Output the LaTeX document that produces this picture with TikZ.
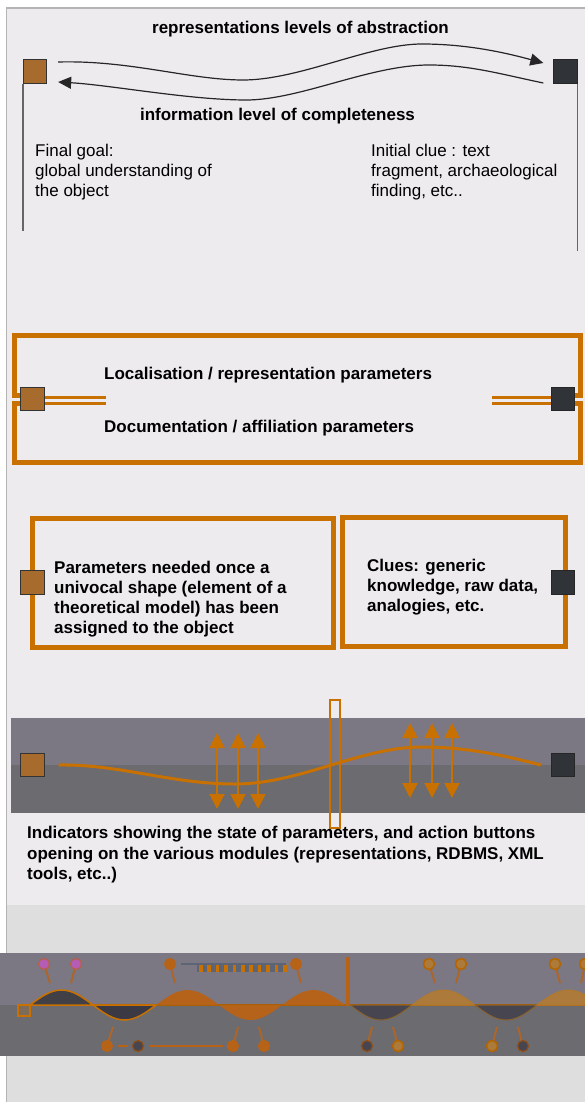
\documentclass[tikz,border=0pt]{standalone}
\usepackage{fontspec}
\setmainfont{Liberation Sans}
\usetikzlibrary{arrows.meta,calc}

\definecolor{pagebg}{HTML}{EEEBEF}
\definecolor{lowbg}{HTML}{DEDEDE}
\definecolor{edgegray}{HTML}{B4B4B4}
\definecolor{amber}{HTML}{C87000}
\definecolor{bronze}{HTML}{A66B2D}
\definecolor{slate}{HTML}{303338}
\definecolor{bandtop}{HTML}{7B7884}
\definecolor{bandlow}{HTML}{6B6B70}
\definecolor{rust}{HTML}{B5621A}
\definecolor{ochre}{HTML}{AC7A3A}
\definecolor{inkA}{HTML}{414046}
\definecolor{inkB}{HTML}{3B3944}
\definecolor{inkC}{HTML}{47454F}
\definecolor{steel}{HTML}{5C6476}
\definecolor{orchid}{HTML}{B55DB6}

\tikzset{
  goal/.style={draw=black!80,fill=bronze,minimum size=23.5pt,inner sep=0pt,line width=0.8pt},
  clue/.style={draw=black!85,fill=slate,minimum size=23.5pt,inner sep=0pt,line width=0.8pt},
  title/.style={font=\fontsize{17}{20}\selectfont\bfseries,inner sep=0pt},
  note/.style={font=\fontsize{17}{20}\selectfont,align=left,inner sep=0pt,anchor=north west},
  boldnote/.style={note,font=\fontsize{17}{20}\selectfont\bfseries},
  post/.style={draw=black!60,line width=1.5pt},
  swing/.style={draw=black!85,line width=1.2pt},
  rim/.style={draw=amber,line width=5pt},
  twin/.style={draw=amber,line width=3pt},
  updown/.style={amber,line width=2pt,{Triangle[length=15pt,width=15pt]}-{Triangle[length=15pt,width=15pt]}},
  stick/.style={draw=rust!85!bandtop,line width=2pt},
  pinkhead/.style={fill=orchid,draw=rust!70!orchid,line width=1.2pt},
  amberhead/.style={fill=rust!90!amber,draw=rust!90!amber,line width=1.2pt},
  palehead/.style={fill=ochre,draw=amber!90!black,line width=1.5pt},
  duskhead/.style={fill=inkC,draw=rust!80!black,line width=1.2pt}
}

\begin{document}
\begin{tikzpicture}[x=1pt,y=-1pt]
\useasboundingbox (0,0) rectangle (585,1102);
\fill[white] (0,0) rectangle (585,1102);
\fill[pagebg] (6.5,8) rectangle (585,905);
\fill[lowbg] (6.5,905) rectangle (585,1102);
\draw[edgegray,line width=1.5pt] (585,8) -- (6.5,8) -- (6.5,1102);

\node[goal] (goalA) at (35,71.5) {};
\node[clue] (clueA) at (565.5,71.5) {};
\draw[post] (goalA.south west) -- ++(0,147);
\draw[post] (clueA.south east) -- ++(0,167);
\draw[swing,-{Triangle[length=13pt,width=12pt]}] ($(goalA.east)+(11,-9.5)$) .. controls (130,60) and (190,80) .. (243,80) .. controls (300,80) and (370,44) .. (422,44) .. controls (470,44) and (510,54) .. ($(clueA.west)+(-10,-8.5)$);
\draw[swing,-{Triangle[length=13pt,width=12pt]}] ($(clueA.west)+(-10,11.5)$) .. controls (500,74) and (470,65) .. (429,65) .. controls (370,65) and (300,100) .. (246,100) .. controls (190,100) and (110,85) .. ($(goalA.east)+(11,10.5)$);
\node[title,anchor=base] (abstraction) at (300.5,34) {representations levels of abstraction};
\node[title,anchor=base] (completeness) at (277.5,121) {information level of completeness};
\node[note] (finalgoal) at (35,144) {Final goal:\\global understanding of\\the object};
\node[note] (initialclue) at (371,144) {Initial clue : text\\fragment, archaeological\\finding, etc..};

\node[goal] (goalB) at (32.5,399) {};
\node[clue] (clueB) at (563,399) {};
\draw[rim] (goalB.west |- 0,395) -| (14.5,335.5) -| (580.5,395) -- (clueB.east |- 0,395);
\draw[rim] (goalB.west |- 0,403) -| (14.5,462.5) -| (580.5,403) -- (clueB.east |- 0,403);
\draw[twin] (goalB.east |- 0,397) -- (106,397) (goalB.east |- 0,403.5) -- (106,403.5);
\draw[twin] (clueB.west |- 0,397) -- (492,397) (clueB.west |- 0,403.5) -- (492,403.5);
\node[goal] at (goalB) {};
\node[clue] at (clueB) {};
\node[title,anchor=base west] (localisation) at (104,379) {Localisation / representation parameters};
\node[title,anchor=base west] (documentation) at (104,432) {Documentation / affiliation parameters};

\draw[rim] (32.5,518.5) rectangle (333.5,647.5);
\draw[rim] (342.5,517.5) rectangle (565.5,646.5);
\node[goal] (goalC) at (32.5,582.5) {};
\node[clue] (clueC) at (563,582.5) {};
\node[boldnote] (needed) at (54,561) {Parameters needed once a\\univocal shape (element of a\\theoretical model) has been\\assigned to the object};
\node[boldnote] (clues) at (367,559) {Clues: generic\\knowledge, raw data,\\analogies, etc.};

\fill[bandtop] (11,718) rectangle (585,765);
\fill[bandlow] (11,765) rectangle (585,813);
\node[goal] (goalD) at (32.5,765) {};
\node[clue] (clueD) at (563,765) {};
\draw[amber,line width=3pt] ($(goalD.east)+(14,0)$) .. controls (120,764) and (170,784) .. (235,784) .. controls (300,784) and (360,747) .. (422,747) .. controls (470,747) and (510,757) .. ($(clueD.west)+(-10,0)$);
\foreach \x in {217,238,258} \draw[updown] (\x,733) -- (\x,809);
\foreach \x in {410,432,452} \draw[updown] (\x,723) -- (\x,798);
\draw[amber,line width=1.5pt] (330,700) rectangle (340,828);
\node[boldnote,font=\fontsize{17}{20.5}\selectfont\bfseries] (indicators) at (27,826) {Indicators showing the state of parameters, and action buttons\\opening on the various modules (representations, RDBMS, XML\\tools, etc..)};

\fill[bandtop] (0,953) rectangle (585,1005);
\fill[bandlow] (0,1005) rectangle (585,1056);
\draw[amber!85!black,line width=2pt] (30,1005) -- (585,1005);
\filldraw[fill=inkA,draw=amber,line width=1.5pt] (30,1005) sin (61.5,990) cos (93,1005) -- cycle;
\filldraw[fill=inkB,draw=amber,line width=1.5pt] (93,1005) sin (124.5,1020) cos (156,1005) -- cycle;
\fill[rust] (156,1005) sin (187.5,990) cos (219,1005) -- cycle;
\fill[rust] (219,1005) sin (250.5,1020) cos (282,1005) -- cycle;
\fill[rust] (282,1005) sin (313.5,990) cos (345,1005) -- cycle;
\fill[rust!90!amber] (346,957) rectangle (350,1006);
\filldraw[fill=inkC,draw=ochre!80!black,line width=1pt] (350,1005) sin (381,1020) cos (412,1005) -- cycle;
\filldraw[fill=ochre,draw=ochre!80!amber,line width=1pt] (412,1005) sin (443.5,990) cos (475,1005) -- cycle;
\filldraw[fill=inkC,draw=ochre!80!black,line width=1pt] (475,1005) sin (506,1020) cos (537,1005) -- cycle;
\filldraw[fill=ochre,draw=ochre!80!amber,line width=1pt] (537,1005) sin (568.5,990) cos (600,1005) -- cycle;
\filldraw[fill=bandlow!80!amber,draw=amber,line width=2pt] (18,1005) rectangle (30,1016);

\draw[steel,line width=2pt] (181,963.5) -- (286,963.5);
\fill[steel] (197,965) rectangle (287,972);
\foreach \k in {0,...,10} \fill[amber] (199+8.4*\k,965) rectangle +(3.6,7);

\foreach \hx/\sx/\look in {44/50/pinkhead,76/71/pinkhead,170/175/amberhead,296/301/amberhead,429/435/palehead,461/456/palehead,555/560/palehead,585/581/palehead}{
  \draw[stick] (\hx,964) -- (\sx,983);
  \filldraw[\look] (\hx,964) circle (5.5pt);
}
\draw[rust!90!amber,line width=1.5pt] (118,1046) -- (128,1046) (150,1046) -- (223,1046);
\foreach \hx/\sx/\look in {107/113/amberhead,233/238/amberhead,264/259/amberhead,367/372/duskhead,398/393/palehead,492/497/palehead,523/518/duskhead}{
  \draw[stick] (\hx,1046) -- (\sx,1027);
  \filldraw[\look] (\hx,1046) circle (5.5pt);
}
\filldraw[duskhead] (138,1046) circle (5.5pt);
\end{tikzpicture}
\end{document}
